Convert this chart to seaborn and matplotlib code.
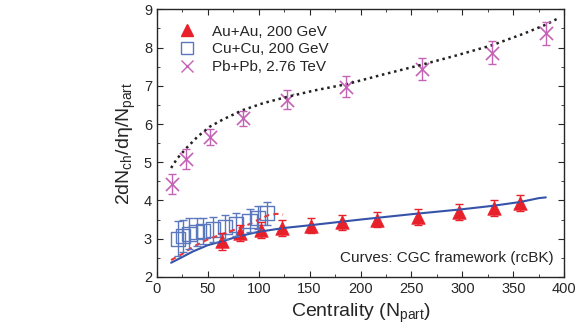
import numpy as np
import pandas as pd
import matplotlib
matplotlib.use('Agg')
import matplotlib.pyplot as plt
import seaborn as sns
from matplotlib.lines import Line2D
from matplotlib.ticker import MultipleLocator

# Au+Au, 200 GeV
au_npart = [64, 82, 102, 123, 151, 182, 216, 256, 297, 331, 357]
au_y = [2.93, 3.16, 3.22, 3.28, 3.34, 3.43, 3.5, 3.57, 3.7, 3.8, 3.93]
au_err = [0.22, 0.21, 0.21, 0.2, 0.2, 0.2, 0.2, 0.2, 0.2, 0.2, 0.2]

# Cu+Cu, 200 GeV
cu_npart = [21, 26, 32, 39, 45, 55, 67, 78, 91, 99, 108]
cu_y = [3.0, 3.07, 3.13, 3.17, 3.2, 3.24, 3.3, 3.37, 3.47, 3.55, 3.67]
cu_err = [0.45, 0.42, 0.4, 0.37, 0.35, 0.33, 0.32, 0.31, 0.3, 0.3, 0.3]

# Pb+Pb, 2.76 TeV
pb_npart = [15, 29, 52, 85, 128, 186, 260, 329, 382]
pb_y = [4.42, 5.08, 5.66, 6.15, 6.63, 6.98, 7.43, 7.86, 8.37]
pb_err = [0.26, 0.26, 0.2, 0.2, 0.25, 0.27, 0.29, 0.3, 0.3]

# CGC (rcBK) curves
pb_curve_x = [14, 20, 29, 40, 52, 65, 84, 105, 128, 155, 186, 220, 260, 295, 329, 360, 382, 393]
pb_curve_y = [4.85, 5.1, 5.37, 5.67, 5.93, 6.12, 6.36, 6.55, 6.71, 6.88, 7.04, 7.28, 7.55, 7.8, 8.06, 8.36, 8.6, 8.75]

au_curve_x = [14, 25, 35, 50, 64, 80, 100, 125, 150, 200, 250, 300, 330, 357, 375, 382]
au_curve_y = [2.37, 2.52, 2.66, 2.83, 2.93, 3.06, 3.18, 3.28, 3.35, 3.5, 3.64, 3.77, 3.86, 3.96, 4.06, 4.08]

cu_curve_x = [14, 20, 25, 35, 50, 62, 75, 90, 100, 110, 118, 124]
cu_curve_y = [2.44, 2.53, 2.6, 2.78, 2.98, 3.1, 3.22, 3.37, 3.5, 3.62, 3.65, 3.63]

au_color = '#e8202a'
cu_color = '#5b78bf'
pb_color = '#c462b6'

sns.set_style('ticks')
plt.rcParams['font.family'] = ['Liberation Sans', 'DejaVu Sans']

fig = plt.figure(figsize=(5.81, 3.34), dpi=100)
ax = fig.add_axes([0.270, 0.171, 0.701, 0.801])

sns.lineplot(x=pb_curve_x, y=pb_curve_y, ax=ax, color='#222222', lw=1.8,
             linestyle=(0, (1, 1.5)), sort=False)
sns.lineplot(x=au_curve_x, y=au_curve_y, ax=ax, color='#3553a8', lw=1.5, sort=False)
sns.lineplot(x=cu_curve_x, y=cu_curve_y, ax=ax, color='#ee3333', lw=1.5,
             linestyle=(0, (2.5, 2)), sort=False)

ax.errorbar(cu_npart, cu_y, yerr=cu_err, fmt='none', ecolor=cu_color, elinewidth=1,
            capsize=3, capthick=1)
sns.scatterplot(x=cu_npart, y=cu_y, ax=ax, marker='s', s=105, facecolor='none',
                edgecolor=cu_color, linewidth=1)

ax.errorbar(au_npart, au_y, yerr=au_err, fmt='none', ecolor=au_color, elinewidth=1,
            capsize=3, capthick=1)
sns.scatterplot(x=au_npart, y=au_y, ax=ax, marker='^', s=95, color=au_color,
                edgecolor=au_color, linewidth=0.5)

ax.errorbar(pb_npart, pb_y, yerr=pb_err, fmt='none', ecolor=pb_color, elinewidth=1,
            capsize=3, capthick=1)
sns.scatterplot(x=pb_npart, y=pb_y, ax=ax, marker='x', s=90, color=pb_color,
                linewidth=1.2)

ax.set_xlim(0, 400)
ax.set_ylim(2, 9)
ax.xaxis.set_major_locator(MultipleLocator(50))
ax.xaxis.set_minor_locator(MultipleLocator(25))
ax.yaxis.set_major_locator(MultipleLocator(1))
ax.yaxis.set_minor_locator(MultipleLocator(0.5))
ax.tick_params(which='both', direction='in', top=True, right=True, labelsize=10.5)
ax.tick_params(which='major', length=4)
ax.tick_params(which='minor', length=2.5)
for s in ax.spines.values():
    s.set_linewidth(1)

ax.set_xlabel('Centrality (N$_{\\mathregular{part}}$)', fontsize=14)
ax.set_ylabel('2dN$_{\\mathregular{ch}}$/d\u03b7/N$_{\\mathregular{part}}$', fontsize=14)

handles = [
    Line2D([], [], marker='^', color=au_color, linestyle='none', markersize=9),
    Line2D([], [], marker='s', markerfacecolor='none', markeredgecolor=cu_color,
           linestyle='none', markersize=9),
    Line2D([], [], marker='x', color=pb_color, linestyle='none', markersize=9, markeredgewidth=1),
]
ax.legend(handles, ['Au+Au, 200 GeV', 'Cu+Cu, 200 GeV', 'Pb+Pb, 2.76 TeV'],
          loc='upper left', frameon=False, fontsize=11, handletextpad=0.6,
          labelspacing=0.25, borderaxespad=0.6)

ax.text(0.975, 0.07, 'Curves: CGC framework (rcBK)', transform=ax.transAxes,
        ha='right', va='center', fontsize=11)

fig.savefig('out.png', dpi=100)
